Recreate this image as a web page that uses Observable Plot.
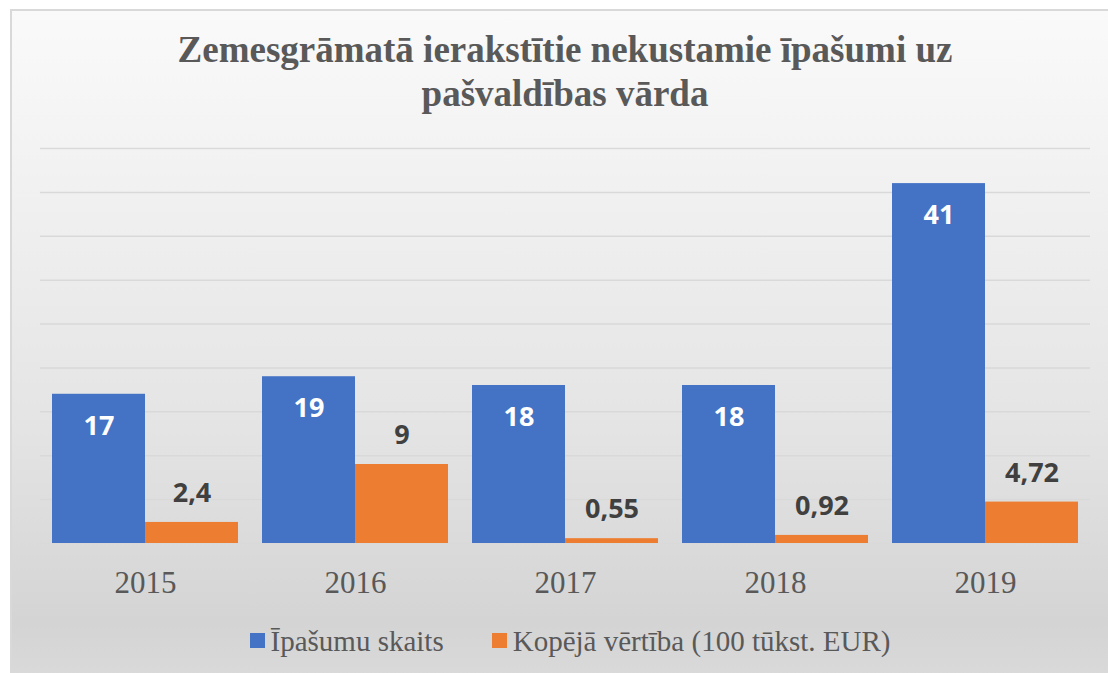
<!DOCTYPE html>
<html>
<head>
<meta charset="utf-8">
<script src="https://cdn.jsdelivr.net/npm/d3@7"></script>
<script src="https://cdn.jsdelivr.net/npm/@observablehq/plot@0.6"></script>
<style>
  html, body { margin: 0; padding: 0; width: 1108px; height: 673px; overflow: hidden; background: #fff; }
  #frame { position: absolute; left: 10px; top: 9px; width: 1120px; height: 700px;
    border: 2px solid #d9d9d9; box-sizing: border-box;
    background: linear-gradient(to bottom, #fafafa 0%, #f1f1f1 25%, #e4e4e4 60%, #d4d4d4 88%, #d9d9d9 95%, #dfdfdf 100%); }
  #title { position: absolute; left: 0; top: 28px; width: 1130px; text-align: center;
    font-family: "Liberation Serif", "Times New Roman", serif; font-weight: bold; font-size: 37px; line-height: 44px; color: #595959; }
  #chart { position: absolute; left: 0; top: 130px; }
  #legend { position: absolute; left: 0; top: 625px; width: 1140px; text-align: center;
    font-family: "Liberation Serif", "Times New Roman", serif; font-size: 29px; line-height: 33px; color: #595959; }
  #legend .item { display: inline-block; margin: 0 24px; }
  #legend .sw { display: inline-block; width: 15px; height: 15px; margin-right: 6px; vertical-align: 3px; }
</style>
</head>
<body>
<div id="frame"></div>
<div id="title">Zemesgrāmatā ierakstītie nekustamie īpašumi uz<br>pašvaldības vārda</div>
<div id="chart"></div>
<div id="legend"></div>
<script>
const years = ["2015", "2016", "2017", "2018", "2019"];
const skaits = [17, 19, 18, 18, 41];
const vertiba = [2.4, 9, 0.55, 0.92, 4.72];
const seriesNames = ["Īpašumu skaits", "Kopējā vērtība (100 tūkst. EUR)"];
const colors = ["#4472C4", "#ED7D31"];
const gridTicks = [0, 5, 10, 15, 20, 25, 30, 35, 40, 45];

const fmt = v => String(v).replace(".", ",");
const rows = [];
years.forEach((y, i) => {
  rows.push({year: y, series: seriesNames[0], value: skaits[i]});
  rows.push({year: y, series: seriesNames[1], value: vertiba[i]});
});
const blue = rows.filter(d => d.series === seriesNames[0]);
const orange = rows.filter(d => d.series === seriesNames[1]);

const chart = Plot.plot({
  width: 1108,
  height: 473,
  marginLeft: 40,
  marginRight: 18,
  marginTop: 18,
  marginBottom: 60,
  style: {background: "transparent", fontFamily: "Liberation Serif, serif", fontSize: "31px", color: "#595959", overflow: "visible"},
  fx: {domain: years, padding: 0, label: null, tickSize: 0, tickPadding: 27, axis: "bottom"},
  x: {domain: seriesNames, axis: null, paddingInner: 0, paddingOuter: 0.129},
  y: {domain: [0, 45], axis: null},
  color: {domain: seriesNames, range: colors},
  marks: [
    Plot.ruleY(gridTicks, {stroke: "#d9d9d9", strokeWidth: 1.5}),
    Plot.barY(rows, {fx: "year", x: "series", y: "value", fill: "series"}),
    Plot.text(blue, {fx: "year", x: "series", y: "value", text: d => fmt(d.value), dy: 32,
      fill: "white", fontSize: 27, fontWeight: "bold", fontFamily: "Open Sans, sans-serif"}),
    Plot.text(orange, {fx: "year", x: "series", y: "value", text: d => fmt(d.value), dy: -29,
      fill: "#404040", fontSize: 27, fontWeight: "bold", fontFamily: "Open Sans, sans-serif"})
  ]
});
document.getElementById("chart").appendChild(chart);

const legend = document.getElementById("legend");
seriesNames.forEach((name, i) => {
  const item = document.createElement("span");
  item.className = "item";
  const sw = document.createElement("span");
  sw.className = "sw";
  sw.style.background = colors[i];
  item.appendChild(sw);
  item.appendChild(document.createTextNode(name));
  legend.appendChild(item);
});
</script>
</body>
</html>
